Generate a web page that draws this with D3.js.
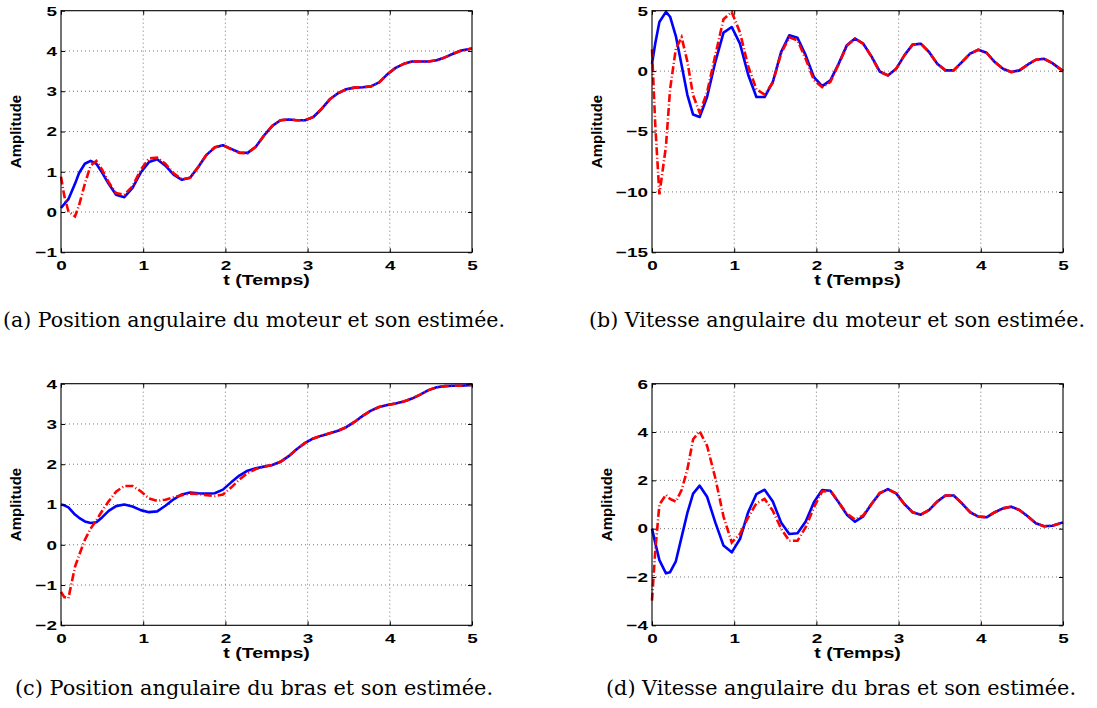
<!DOCTYPE html>
<html>
<head>
<meta charset="utf-8">
<script src="https://cdn.jsdelivr.net/npm/d3@7"></script>
<style>
  body { margin: 0; background: #fff; }
</style>
</head>
<body>
<svg id="fig" width="1097" height="708"></svg>
<script>
// time samples (s), same for the four simulations
var T = [0, 0.04, 0.09, 0.17, 0.22, 0.29, 0.36, 0.43, 0.5, 0.58, 0.67, 0.77, 0.87,
  0.97, 1.07, 1.17, 1.27, 1.37, 1.47, 1.57, 1.67, 1.77, 1.87,
  1.97, 2.07, 2.17, 2.27, 2.37, 2.47, 2.57, 2.67, 2.77, 2.87,
  2.97, 3.07, 3.17, 3.27, 3.37, 3.47, 3.57, 3.67, 3.77, 3.87,
  3.97, 4.07, 4.17, 4.27, 4.37, 4.47, 4.57, 4.67, 4.77, 4.87, 5.0];

// (a) motor angular position / estimate
var posMotor = [0.10, 0.20, 0.32, 0.70, 0.97, 1.20, 1.27, 1.20, 0.98, 0.70, 0.43, 0.37, 0.60,
  0.98, 1.24, 1.31, 1.15, 0.93, 0.80, 0.85, 1.12, 1.42, 1.60,
  1.66, 1.57, 1.48, 1.47, 1.62, 1.90, 2.14, 2.28, 2.30, 2.28,
  2.28, 2.36, 2.56, 2.80, 2.95, 3.05, 3.09, 3.10, 3.12, 3.22,
  3.42, 3.58, 3.68, 3.74, 3.74, 3.74, 3.77, 3.84, 3.93, 4.01, 4.06];
var posMotorEst = [0.88, 0.40, 0.02, -0.11, 0.17, 0.70, 1.15, 1.27, 1.05, 0.74, 0.47, 0.43, 0.64,
  1.05, 1.33, 1.35, 1.20, 0.96, 0.81, 0.85, 1.12, 1.42, 1.61,
  1.66, 1.56, 1.47, 1.46, 1.62, 1.90, 2.14, 2.28, 2.30, 2.28,
  2.28, 2.36, 2.56, 2.80, 2.95, 3.05, 3.09, 3.10, 3.12, 3.22,
  3.42, 3.58, 3.68, 3.74, 3.74, 3.74, 3.77, 3.84, 3.93, 4.01, 4.06];

// (b) motor angular velocity / estimate
var velMotor = [0.6, 2.3, 4.06, 4.9, 4.5, 2.9, 0.5, -1.96, -3.6, -3.8, -2.15, 0.75, 3.18,
  3.65, 2.27, -0.3, -2.15, -2.15, -0.9, 1.57, 2.96, 2.76, 1.3,
  -0.5, -1.24, -0.77, 0.6, 2.13, 2.7, 2.27, 1.22, -0.03, -0.36,
  0.19, 1.3, 2.19, 2.27, 1.58, 0.61, 0.06, 0.06, 0.75, 1.44,
  1.77, 1.52, 0.75, 0.19, -0.08, 0.06, 0.53, 0.94, 1.02, 0.66, 0.0];
var velMotorEst = [1.8, -4.5, -10.2, -6.2, -1.5, 1.85, 2.8, 0.8, -2.0, -3.45, -1.75, 1.3, 4.3,
  4.9, 3.2, 0.4, -1.5, -1.95, -0.95, 1.45, 2.8, 2.55, 1.0,
  -0.75, -1.33, -0.9, 0.55, 2.1, 2.7, 2.25, 1.2, -0.05, -0.36,
  0.19, 1.3, 2.19, 2.27, 1.58, 0.61, 0.06, 0.06, 0.75, 1.44,
  1.77, 1.52, 0.75, 0.19, -0.08, 0.06, 0.53, 0.94, 1.02, 0.66, 0.0];

// (c) arm angular position / estimate
var posArm = [1.0, 0.98, 0.93, 0.75, 0.67, 0.58, 0.54, 0.56, 0.68, 0.84, 0.96, 1.0, 0.95,
  0.86, 0.81, 0.83, 0.97, 1.13, 1.25, 1.30, 1.28, 1.27, 1.28,
  1.37, 1.55, 1.72, 1.84, 1.90, 1.94, 1.98, 2.06, 2.20, 2.38,
  2.53, 2.64, 2.71, 2.77, 2.83, 2.92, 3.05, 3.20, 3.33, 3.42,
  3.47, 3.51, 3.56, 3.63, 3.73, 3.84, 3.91, 3.94, 3.95, 3.95, 3.97];
var posArmEst = [-1.17, -1.30, -1.33, -0.55, -0.26, 0.12, 0.40, 0.61, 0.84, 1.08, 1.32, 1.46, 1.46,
  1.33, 1.15, 1.09, 1.12, 1.18, 1.23, 1.27, 1.26, 1.23, 1.21,
  1.25, 1.42, 1.62, 1.78, 1.88, 1.94, 1.98, 2.06, 2.20, 2.38,
  2.53, 2.64, 2.71, 2.77, 2.83, 2.92, 3.05, 3.20, 3.33, 3.42,
  3.47, 3.51, 3.56, 3.63, 3.73, 3.84, 3.91, 3.94, 3.95, 3.95, 3.97];

// (d) arm angular velocity / estimate
var velArm = [0, -0.6, -1.3, -1.85, -1.8, -1.35, -0.35, 0.65, 1.45, 1.78, 1.32, 0.26, -0.7,
  -0.98, -0.43, 0.68, 1.43, 1.61, 1.12, 0.26, -0.22, -0.19, 0.3,
  1.09, 1.6, 1.57, 1.09, 0.58, 0.29, 0.51, 1.02, 1.46, 1.64,
  1.46, 1.02, 0.68, 0.58, 0.77, 1.12, 1.37, 1.37, 1.05, 0.68,
  0.5, 0.47, 0.68, 0.84, 0.91, 0.77, 0.51, 0.22, 0.1, 0.12, 0.26];
var velArmEst = [-2.98, -0.9, 1.0, 1.4, 1.23, 1.12, 1.6, 2.45, 3.7, 4.03, 3.43, 2.1, 0.5,
  -0.57, -0.22, 0.47, 1.05, 1.23, 0.74, 0.0, -0.5, -0.5, 0.06,
  0.88, 1.54, 1.57, 1.1, 0.62, 0.38, 0.55, 1.02, 1.48, 1.62,
  1.46, 1.02, 0.68, 0.58, 0.77, 1.12, 1.37, 1.37, 1.05, 0.68,
  0.5, 0.47, 0.68, 0.84, 0.91, 0.77, 0.51, 0.22, 0.1, 0.12, 0.26];

var xTicks = [0, 1, 2, 3, 4, 5];
var yTicksA = [-1, 0, 1, 2, 3, 4, 5];
var yTicksB = [-15, -10, -5, 0, 5];
var yTicksC = [-2, -1, 0, 1, 2, 3, 4];
var yTicksD = [-4, -2, 0, 2, 4, 6];

var xLabel = "t (Temps)";
var yLabel = "Amplitude";
var captions = [
  "(a)  Position angulaire du moteur et son estimée.",
  "(b)  Vitesse angulaire du moteur et son estimée.",
  "(c)  Position angulaire du bras et son estimée.",
  "(d)  Vitesse angulaire du bras et son estimée."
];

// layout of the four panels
var panels = [
  {left: 61, right: 472, top: 10.7, bottom: 252.3, ticks: yTicksA, real: posMotor, est: posMotorEst,
   ylab: 40, cap: captions[0], capX: 3, capW: 502, capY: 327},
  {left: 652, right: 1063, top: 10.7, bottom: 252.3, ticks: yTicksB, real: velMotor, est: velMotorEst,
   ylab: 50.5, cap: captions[1], capX: 589, capW: 496, capY: 327},
  {left: 61, right: 472, top: 383.7, bottom: 625.3, ticks: yTicksC, real: posArm, est: posArmEst,
   ylab: 40, cap: captions[2], capX: 15, capW: 478, capY: 695},
  {left: 652, right: 1063, top: 383.7, bottom: 625.3, ticks: yTicksD, real: velArm, est: velArmEst,
   ylab: 40, cap: captions[3], capX: 606, capW: 470, capY: 695}
];

var tickFont = "'Liberation Sans', Arial, Helvetica, sans-serif";
var stretch = 1.4;

var svg = d3.select("#fig");

panels.forEach(function(p) {
  var x = d3.scaleLinear().domain([0, 5]).range([p.left, p.right]);
  var y = d3.scaleLinear().domain(d3.extent(p.ticks)).range([p.bottom, p.top]);
  var g = svg.append("g");

  // dotted grid
  g.selectAll(".vgrid")
      .data(xTicks.slice(1, -1))
    .enter().append("line")
      .attr("x1", function(d) { return x(d); })
      .attr("x2", function(d) { return x(d); })
      .attr("y1", p.top)
      .attr("y2", p.bottom)
      .attr("stroke", "#777")
      .attr("stroke-width", 1)
      .attr("stroke-dasharray", "1,3");
  g.selectAll(".hgrid")
      .data(p.ticks.slice(1, -1))
    .enter().append("line")
      .attr("x1", p.left)
      .attr("x2", p.right)
      .attr("y1", function(d) { return y(d); })
      .attr("y2", function(d) { return y(d); })
      .attr("stroke", "#777")
      .attr("stroke-width", 1)
      .attr("stroke-dasharray", "1,3");

  var line = d3.line()
      .x(function(d, i) { return x(T[i]); })
      .y(function(d) { return y(d); });

  // real signal (solid blue) then estimate (red dash-dot)
  g.append("path")
      .datum(p.real)
      .attr("d", line)
      .attr("fill", "none")
      .attr("stroke", "#0000ff")
      .attr("stroke-width", 2.6)
      .attr("stroke-linejoin", "round");
  g.append("path")
      .datum(p.est)
      .attr("d", line)
      .attr("fill", "none")
      .attr("stroke", "#ff0000")
      .attr("stroke-width", 2.6)
      .attr("stroke-dasharray", "8,2.5,1,2.5");

  // axes with inward ticks on the four sides
  var bottomAxis = g.append("g")
      .attr("transform", "translate(0," + p.bottom + ")")
      .call(d3.axisBottom(x).tickValues(xTicks).tickFormat(d3.format("d"))
        .tickSizeInner(-4).tickSizeOuter(0).tickPadding(8));
  var leftAxis = g.append("g")
      .attr("transform", "translate(" + p.left + ",0)")
      .call(d3.axisLeft(y).tickValues(p.ticks).tickFormat(d3.format("d"))
        .tickSizeInner(-4).tickSizeOuter(0).tickPadding(3));
  g.append("g")
      .attr("transform", "translate(0," + p.top + ")")
      .call(d3.axisTop(x).tickValues(xTicks).tickFormat("").tickSizeInner(-4).tickSizeOuter(0));
  g.append("g")
      .attr("transform", "translate(" + p.right + ",0)")
      .call(d3.axisRight(y).tickValues(p.ticks).tickFormat("").tickSizeInner(-4).tickSizeOuter(0));

  g.selectAll(".domain").remove();
  g.selectAll(".tick line").attr("stroke", "#000");

  [bottomAxis, leftAxis].forEach(function(a) {
    a.attr("font-family", tickFont)
      .attr("font-size", 13.5)
      .attr("font-weight", "bold");
    a.selectAll("text").attr("fill", "#000");
  });
  bottomAxis.selectAll("text").attr("transform", "scale(" + stretch + ",1)");
  leftAxis.selectAll("text")
      .attr("x", -4 / stretch)
      .attr("transform", "scale(" + stretch + ",1)");

  // frame
  g.append("rect")
      .attr("x", p.left)
      .attr("y", p.top)
      .attr("width", p.right - p.left)
      .attr("height", p.bottom - p.top)
      .attr("fill", "none")
      .attr("stroke", "#000")
      .attr("stroke-width", 1.1);

  // axis titles
  g.append("text")
      .attr("transform", "translate(" + (p.left + p.right) / 2 + "," + (p.bottom + 33) + ") scale(" + stretch + ",1)")
      .attr("text-anchor", "middle")
      .attr("font-family", tickFont)
      .attr("font-size", 14)
      .attr("font-weight", "bold")
      .text(xLabel);
  g.append("text")
      .attr("transform", "translate(" + (p.left - p.ylab) + "," + (p.top + p.bottom) / 2 + ") rotate(-90)")
      .attr("text-anchor", "middle")
      .attr("font-family", tickFont)
      .attr("font-size", 15)
      .attr("font-weight", "bold")
      .text(yLabel);

  // sub-figure caption
  svg.append("text")
      .attr("x", p.capX)
      .attr("y", p.capY)
      .attr("textLength", p.capW)
      .attr("lengthAdjust", "spacingAndGlyphs")
      .attr("font-family", "'DejaVu Serif', serif")
      .attr("font-size", 21)
      .attr("fill", "#000")
      .text(p.cap);
});
</script>
</body>
</html>
